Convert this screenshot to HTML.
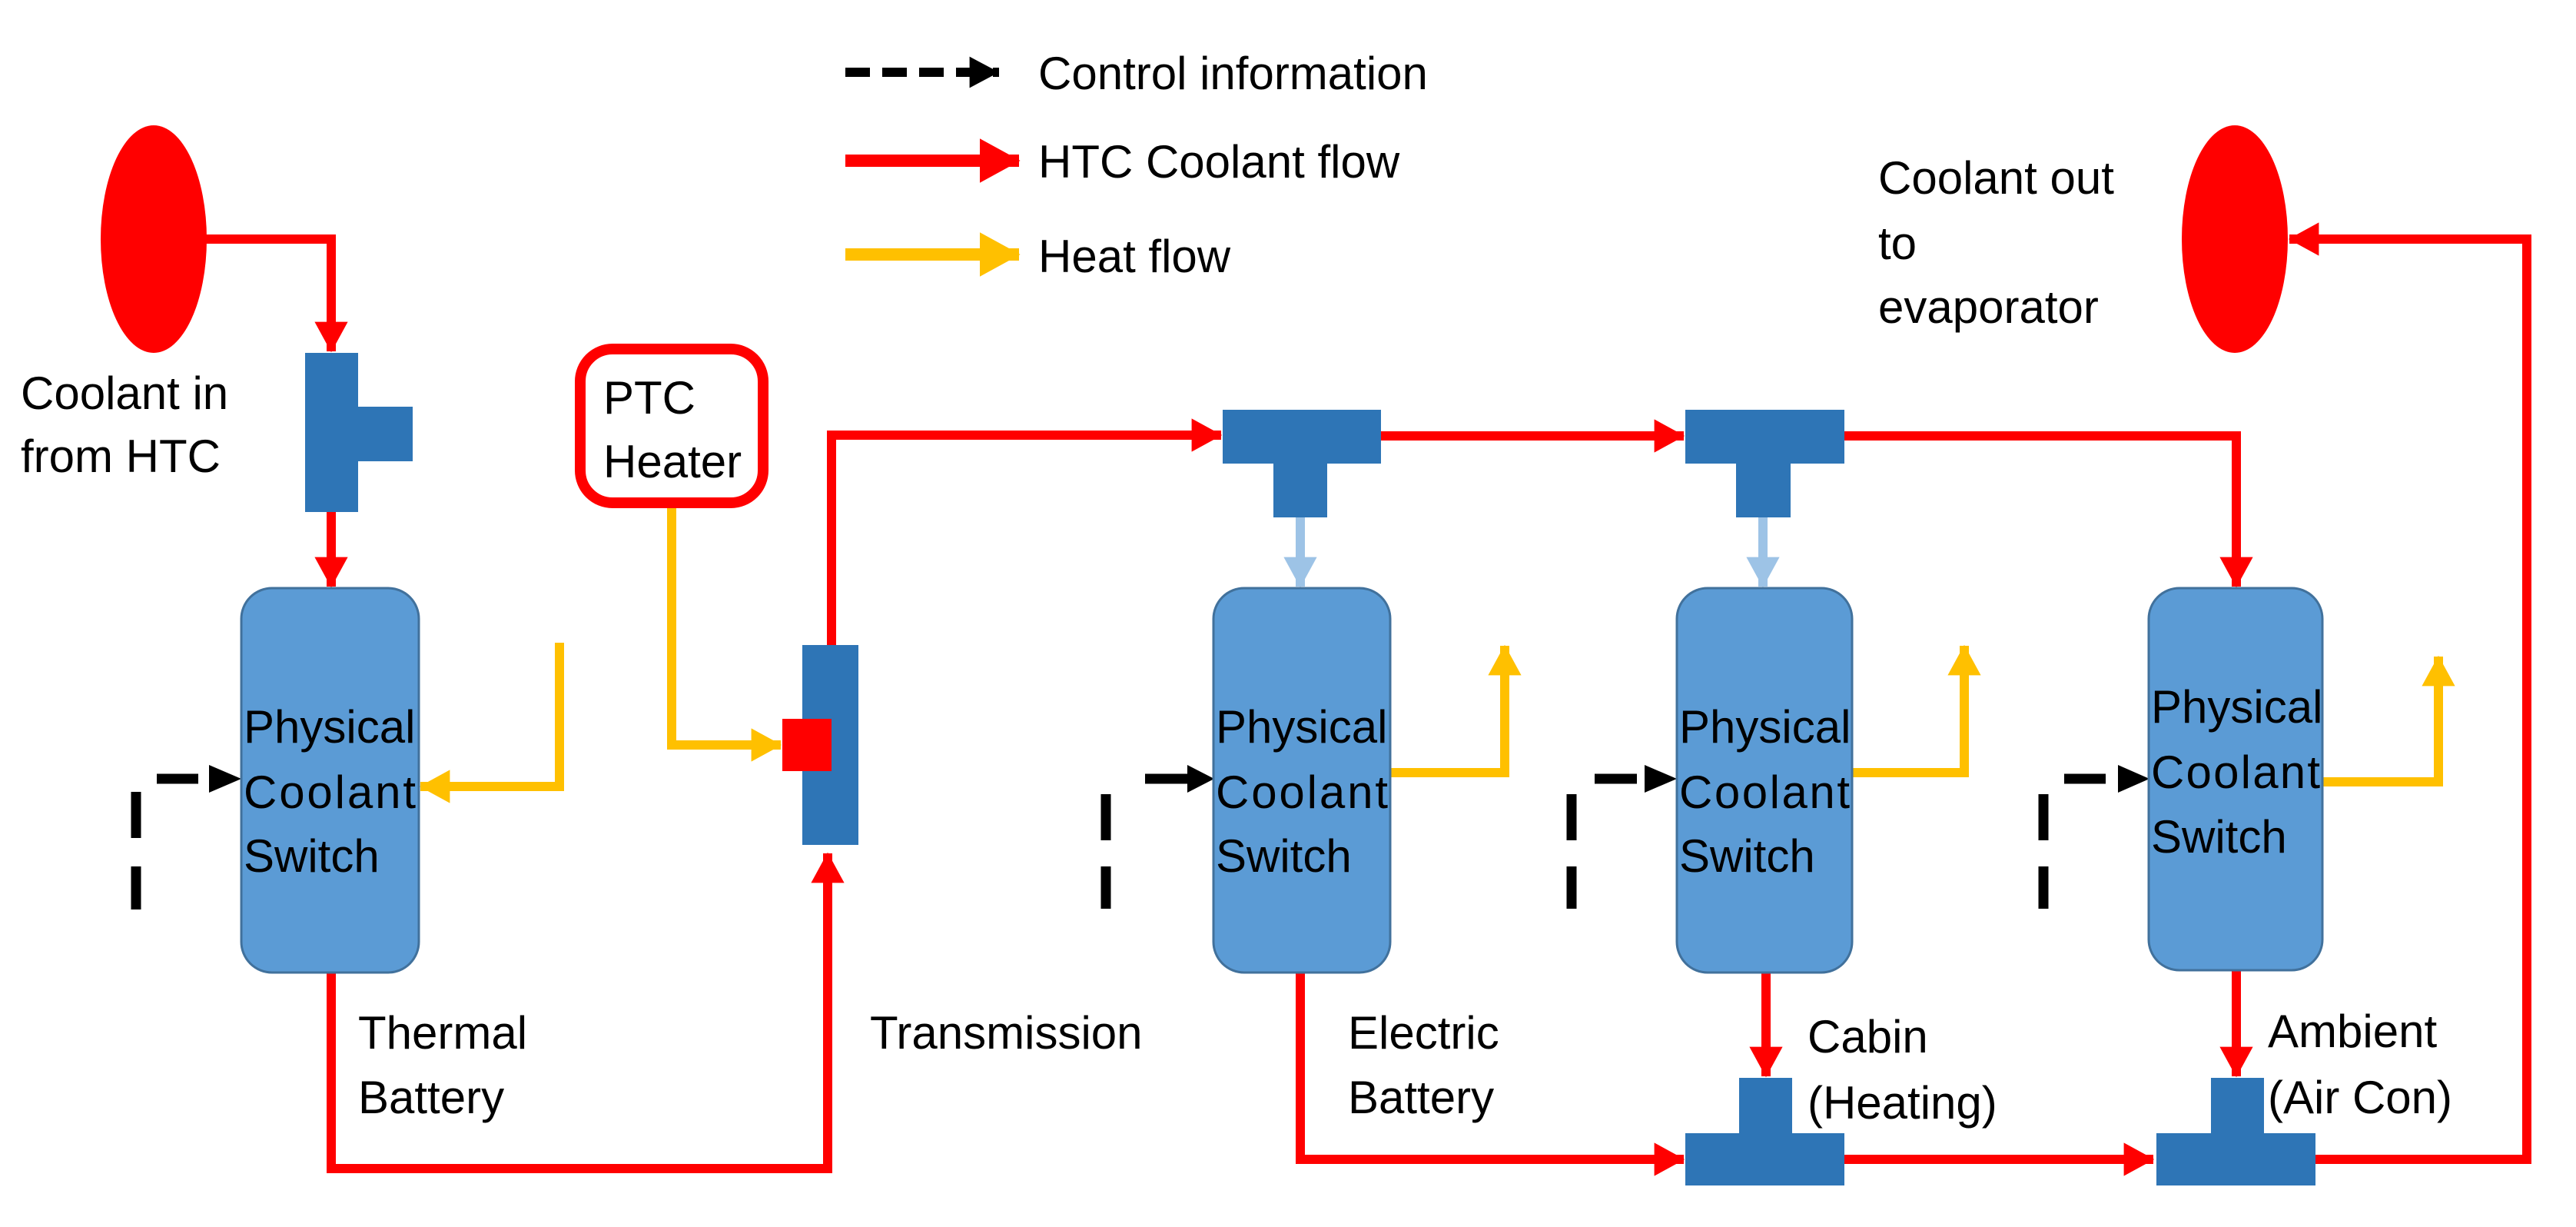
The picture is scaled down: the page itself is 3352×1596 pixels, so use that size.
<!DOCTYPE html>
<html><head><meta charset="utf-8"><style>
html,body{margin:0;padding:0;background:#fff}
svg{display:block}
text{font-family:"Liberation Sans",sans-serif;font-size:60px;fill:#000}
</style></head><body>
<svg width="3352" height="1596" viewBox="0 0 3352 1596" xmlns="http://www.w3.org/2000/svg">
<defs>
<marker id="r" markerWidth="4" markerHeight="4" refX="3.2" refY="2" orient="auto" markerUnits="strokeWidth"><path d="M0,0.2 L3.3,2 L0,3.8 Z" fill="#f00"/></marker>
<marker id="y" markerWidth="4" markerHeight="4" refX="3.2" refY="2" orient="auto" markerUnits="strokeWidth"><path d="M0,0.2 L3.3,2 L0,3.8 Z" fill="#FFC000"/></marker>
<marker id="b" markerWidth="4" markerHeight="4" refX="3.2" refY="2" orient="auto" markerUnits="strokeWidth"><path d="M0,0.2 L3.3,2 L0,3.8 Z" fill="#9DC3E6"/></marker>
<marker id="k" markerWidth="4" markerHeight="4" refX="3.2" refY="2" orient="auto" markerUnits="strokeWidth"><path d="M0,0.3 L3.2,2 L0,3.7 Z" fill="#000"/></marker>
</defs>
<g fill="none" stroke-width="12">
<path d="M1100,94 H1300" stroke="#000" stroke-dasharray="32,16" marker-end="url(#k)"/>
<path d="M1100,209 H1326" stroke="#f00" stroke-width="16" marker-end="url(#r)"/>
<path d="M1100,331 H1326" stroke="#FFC000" stroke-width="16" marker-end="url(#y)"/>

<path d="M268,311 H431 V457" stroke="#f00" marker-end="url(#r)"/>
<path d="M431,666 V763" stroke="#f00" marker-end="url(#r)"/>
<path d="M431,1265 V1520 H1077 V1110" stroke="#f00" marker-end="url(#r)"/>
<path d="M1082,839 V566 H1589" stroke="#f00" marker-end="url(#r)"/>
<path d="M1797,567 H2191" stroke="#f00" marker-end="url(#r)"/>
<path d="M2400,567 H2910 V763" stroke="#f00" marker-end="url(#r)"/>
<path d="M1692,1265 V1508 H2191" stroke="#f00" marker-end="url(#r)"/>
<path d="M2298,1265 V1400" stroke="#f00" marker-end="url(#r)"/>
<path d="M2400,1508 H2802" stroke="#f00" marker-end="url(#r)"/>
<path d="M2910,1262 V1400" stroke="#f00" marker-end="url(#r)"/>
<path d="M3013,1508 H3288 V311 H2979" stroke="#f00" marker-end="url(#r)"/>

<path d="M1692,673 V763" stroke="#9DC3E6" marker-end="url(#b)"/>
<path d="M2294,673 V763" stroke="#9DC3E6" marker-end="url(#b)"/>

<path d="M728,836 V1023 H547" stroke="#FFC000" marker-end="url(#y)"/>
<path d="M874,661 V969 H1016" stroke="#FFC000" marker-end="url(#y)"/>
<path d="M1809,1005 H1958 V840" stroke="#FFC000" marker-end="url(#y)"/>
<path d="M2410,1005 H2556 V840" stroke="#FFC000" marker-end="url(#y)"/>
<path d="M3022,1017 H3173 V854" stroke="#FFC000" marker-end="url(#y)"/>

<g stroke="#000" stroke-width="13">
<path d="M177,1030 V1090 M177,1127 V1183"/>
<path d="M204,1013 H258" />
<path d="M1439,1033 V1093 M1439,1127 V1182"/>
<path d="M1490,1013 H1545"/>
<path d="M2045,1033 V1093 M2045,1127 V1182"/>
<path d="M2075,1013 H2130"/>
<path d="M2659,1033 V1093 M2659,1127 V1182"/>
<path d="M2686,1013 H2740"/>
</g>
</g>
<g fill="#000">
<path d="M272,995 L314,1013 L272,1031Z"/>
<path d="M1545,995 L1580,1013 L1545,1031Z"/>
<path d="M2140,995 L2182,1013 L2140,1031Z"/>
<path d="M2756,995 L2797,1013 L2756,1031Z"/>
</g>

<ellipse cx="200" cy="311" rx="69" ry="148" fill="#f00"/>
<ellipse cx="2908" cy="311" rx="69" ry="148" fill="#f00"/>

<g fill="#2E75B6">
<path d="M397,459 H466 V529 H537 V600 H466 V666 H397Z"/>
<path d="M1591,533 H1797 V603 H1727 V673 H1657 V603 H1591Z"/>
<path d="M2193,533 H2400 V603 H2330 V673 H2259 V603 H2193Z"/>
<path d="M2263,1402 H2332 V1474 H2400 V1542 H2193 V1474 H2263Z"/>
<path d="M2877,1402 H2946 V1474 H3013 V1542 H2806 V1474 H2877Z"/>
<rect x="1044" y="839" width="73" height="260"/>
</g>
<rect x="1018" y="935" width="64" height="68" fill="#f00"/>

<rect x="755" y="454" width="238" height="200" rx="42" fill="#fff" stroke="#f00" stroke-width="14"/>
<text x="785" y="538">PTC</text>
<text x="785" y="621">Heater</text>

<g fill="#5B9BD5" stroke="#41719C" stroke-width="3">
<rect x="314" y="765" width="231" height="500" rx="40"/>
<rect x="1579" y="765" width="230" height="500" rx="40"/>
<rect x="2182" y="765" width="228" height="500" rx="40"/>
<rect x="2796" y="765" width="226" height="497" rx="40"/>
</g>
<g font-size="62">
<text x="317" y="966">Physical</text><text x="317" y="1051" textLength="224">Coolant</text><text x="317" y="1134">Switch</text>
<text x="1582" y="966">Physical</text><text x="1582" y="1051" textLength="224">Coolant</text><text x="1582" y="1134">Switch</text>
<text x="2185" y="966">Physical</text><text x="2185" y="1051" textLength="222">Coolant</text><text x="2185" y="1134">Switch</text>
<text x="2799" y="940">Physical</text><text x="2799" y="1025" textLength="220">Coolant</text><text x="2799" y="1109">Switch</text>
</g>

<text x="27" y="532">Coolant in</text>
<text x="27" y="614">from HTC</text>
<text x="466" y="1364">Thermal</text>
<text x="466" y="1448">Battery</text>
<text x="1132" y="1364">Transmission</text>
<text x="1754" y="1364">Electric</text>
<text x="1754" y="1448">Battery</text>
<text x="2352" y="1369">Cabin</text>
<text x="2352" y="1455">(Heating)</text>
<text x="2951" y="1362">Ambient</text>
<text x="2951" y="1448">(Air Con)</text>
<text x="2444" y="252">Coolant out</text>
<text x="2444" y="337">to</text>
<text x="2444" y="420">evaporator</text>
<text x="1351" y="116">Control information</text>
<text x="1351" y="231">HTC Coolant flow</text>
<text x="1351" y="354">Heat flow</text>
</svg>
</body></html>
